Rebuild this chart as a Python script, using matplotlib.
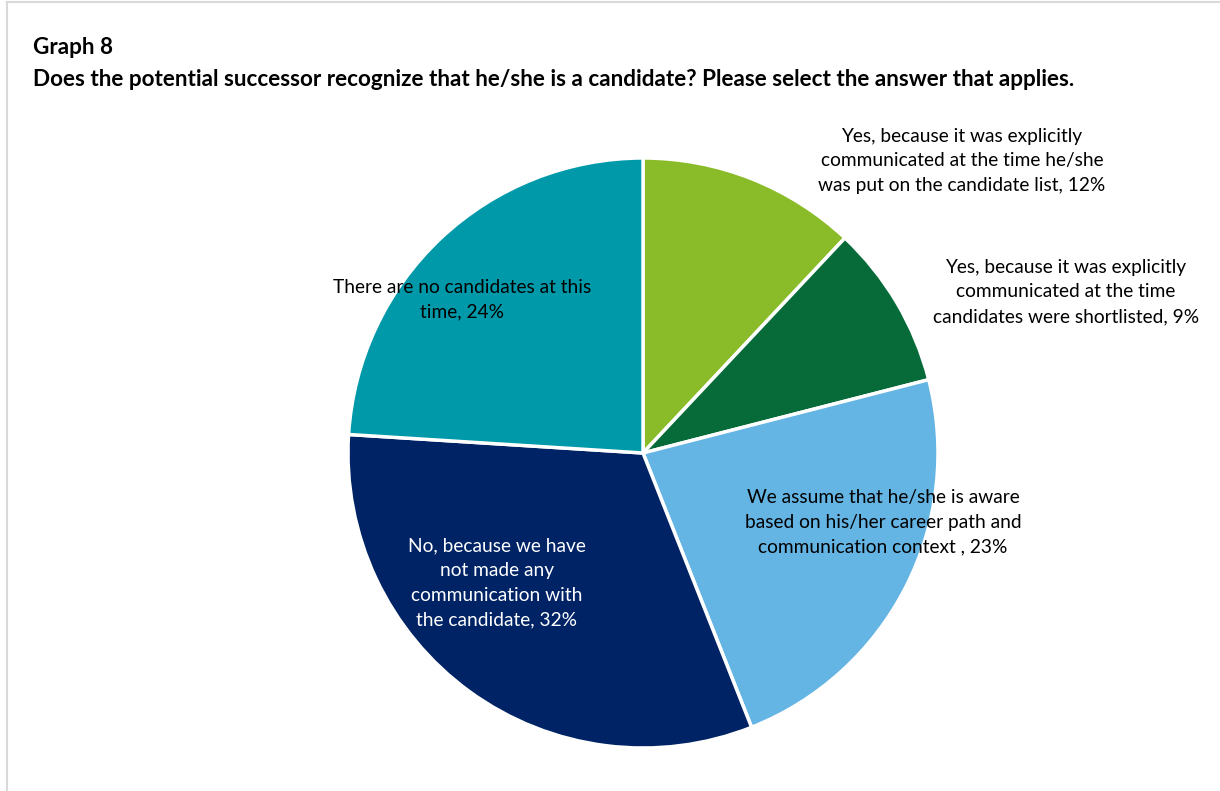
import matplotlib
matplotlib.use("Agg")
import matplotlib.pyplot as plt
from matplotlib.lines import Line2D

plt.rcParams['font.family'] = ['Lato', 'DejaVu Sans']

# survey answers, clockwise from 12 o'clock
answers = [
    "Yes, because it was explicitly\ncommunicated at the time he/she\nwas put on the candidate list",
    "Yes, because it was explicitly\ncommunicated at the time\ncandidates were shortlisted",
    "We assume that he/she is aware\nbased on his/her career path and\ncommunication context ",
    "No, because we have\nnot made any\ncommunication with\nthe candidate",
    "There are no candidates at this\ntime",
]
shares = [12, 9, 23, 32, 24]
colors = ["#89BC28", "#066B38", "#64B4E4", "#002366", "#0099A9"]
label_colors = ["black", "black", "black", "white", "black"]
# where each label sits, in pie-radius units from the centre
label_xy = [(1.081, 0.990), (1.434, 0.546), (0.814, -0.234), (-0.495, -0.441), (-0.614, 0.519)]

W, H = 1220, 791
fig = plt.figure(figsize=(W / 100, H / 100), dpi=100)

# pie centre (643, 453) px, radius 295 px
cx, cy, r = 643, 453, 295
ax = fig.add_axes([(cx - r) / W, (H - cy - r) / H, 2 * r / W, 2 * r / H])
ax.pie(shares, colors=colors, startangle=90, counterclock=False, radius=1,
       wedgeprops=dict(edgecolor="white", linewidth=2.5))
ax.set_xlim(-1, 1)
ax.set_ylim(-1, 1)
ax.set_aspect("equal")
ax.axis("off")

for name, val, (x, y), c in zip(answers, shares, label_xy, label_colors):
    ax.text(x, y, f"{name}, {val}%", ha="center", va="center", fontsize=13.8,
            color=c, linespacing=1.55, clip_on=False)

fig.text(33 / W, 1 - 48 / H, "Graph 8", fontsize=16.2, fontweight="bold", va="center")
fig.text(33 / W, 1 - 80 / H,
         "Does the potential successor recognize that he/she is a candidate? Please select the answer that applies.",
         fontsize=16.2, fontweight="bold", va="center")

# thin grey frame along top and left edge
fig.add_artist(Line2D([7 / W, 1], [1 - 2 / H, 1 - 2 / H], color="#D9D9D9", lw=1.5))
fig.add_artist(Line2D([7 / W, 7 / W], [0, 1 - 2 / H], color="#D9D9D9", lw=1.5))

fig.savefig("out.png", dpi=100)
